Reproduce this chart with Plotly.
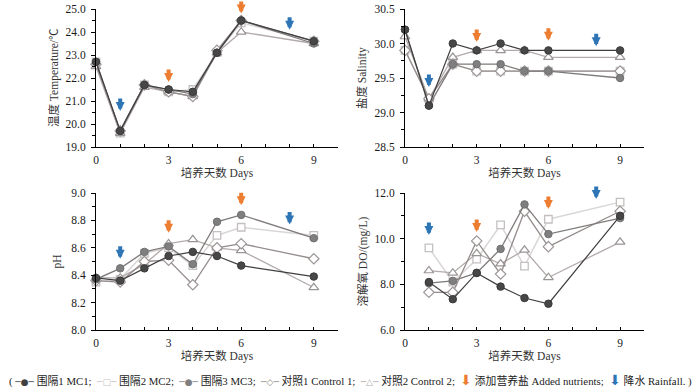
import plotly.graph_objects as go
from plotly.subplots import make_subplots

# ---------------- data ----------------
DAYS = [0, 1, 2, 3, 4, 5, 6, 9]
DO_DAYS = [1, 2, 3, 4, 5, 6, 9]
SERIES = ["围隔1 MC1", "围隔2 MC2", "围隔3 MC3", "对照1 Control 1", "对照2 Control 2"]

TEMP_MC1 = [22.7, 19.7, 21.7, 21.5, 21.4, 23.1, 24.5, 23.6]
TEMP_MC2 = [22.7, 19.6, 21.7, 21.4, 21.5, 23.1, 24.4, 23.6]
TEMP_MC3 = [22.7, 19.7, 21.7, 21.5, 21.3, 23.1, 24.5, 23.5]
TEMP_C1 = [22.6, 19.7, 21.7, 21.4, 21.2, 23.2, 24.5, 23.6]
TEMP_C2 = [22.5, 19.6, 21.6, 21.4, 21.2, 23.1, 24.0, 23.5]

SAL_MC1 = [30.2, 29.1, 30.0, 29.9, 30.0, 29.9, 29.9, 29.9]
SAL_MC2 = [29.9, 29.2, 29.7, 29.6, 29.6, 29.6, 29.6, 29.6]
SAL_MC3 = [30.2, 29.1, 29.7, 29.7, 29.7, 29.6, 29.6, 29.5]
SAL_C1 = [29.9, 29.2, 29.7, 29.6, 29.6, 29.6, 29.6, 29.6]
SAL_C2 = [30.1, 29.2, 29.8, 29.9, 29.9, 29.9, 29.8, 29.8]

PH_MC1 = [8.38, 8.36, 8.45, 8.54, 8.57, 8.54, 8.47, 8.39]
PH_MC2 = [8.35, 8.37, 8.56, 8.60, 8.47, 8.69, 8.75, 8.69]
PH_MC3 = [8.37, 8.45, 8.57, 8.61, 8.48, 8.79, 8.84, 8.67]
PH_C1 = [8.36, 8.35, 8.50, 8.51, 8.33, 8.60, 8.63, 8.52]
PH_C2 = [8.38, 8.38, 8.48, 8.63, 8.66, 8.60, 8.58, 8.31]

DO_MC1 = [8.10, 7.35, 8.50, 7.90, 7.40, 7.15, 11.0]
DO_MC2 = [9.60, 8.10, 9.10, 10.60, 8.80, 10.85, 11.6]
DO_MC3 = [8.05, 8.15, 8.50, 9.55, 11.50, 10.20, 10.9]
DO_C1 = [7.65, 7.65, 9.90, 8.45, 11.20, 9.65, 11.2]
DO_C2 = [8.60, 8.50, 9.35, 8.90, 9.50, 8.30, 9.85]

# event arrows (day, value of arrow tip, kind)
ARROW_DAYS = [1, 3, 6, 8]
ARROW_KIND = ["rain", "nutr", "nutr", "rain"]
TEMP_ARROW_TIPS = [20.57, 21.83, 24.80, 24.10]
SAL_ARROW_TIPS = [29.37, 30.02, 30.04, 29.96]
PH_ARROW_TIPS = [8.52, 8.71, 8.91, 8.77]
DO_ARROW_TIPS = [10.16, 10.29, 11.30, 11.74]

XTICK_VALS = list(range(0, 11))
XTICK_TEXT = ["0", "", "", "3", "", "", "6", "", "", "9", ""]

# ---------------- styles ----------------
FONT = "Liberation Serif, Times New Roman, Noto Sans CJK SC, serif"
STYLES = [
    dict(line=dict(color="#3f3f3f", width=1.2),
         marker=dict(symbol="circle", size=7.5, color="#474747", line=dict(color="#3a3a3a", width=1))),
    dict(line=dict(color="#d9d6d6", width=1.5),
         marker=dict(symbol="square", size=7.5, color="white", line=dict(color="#c4c0c0", width=1.3))),
    dict(line=dict(color="#7f7a7a", width=1.3),
         marker=dict(symbol="circle", size=7.5, color="#7f7f7f", line=dict(color="#707070", width=1))),
    dict(line=dict(color="#948b8b", width=1.3),
         marker=dict(symbol="diamond", size=8, color="white", line=dict(color="#9c9696", width=1.2))),
    dict(line=dict(color="#b3abab", width=1.3),
         marker=dict(symbol="triangle-up", size=8.5, color="white", line=dict(color="#9a9595", width=1.2))),
]
ARROW_COLORS = {"nutr": "#ed7d31", "rain": "#2e75b6"}

fig = make_subplots(rows=2, cols=2)

panels = [
    (1, 1, DAYS, [TEMP_MC1, TEMP_MC2, TEMP_MC3, TEMP_C1, TEMP_C2], TEMP_ARROW_TIPS),
    (1, 2, DAYS, [SAL_MC1, SAL_MC2, SAL_MC3, SAL_C1, SAL_C2], SAL_ARROW_TIPS),
    (2, 1, DAYS, [PH_MC1, PH_MC2, PH_MC3, PH_C1, PH_C2], PH_ARROW_TIPS),
    (2, 2, DO_DAYS, [DO_MC1, DO_MC2, DO_MC3, DO_C1, DO_C2], DO_ARROW_TIPS),
]

order = [1, 4, 3, 2, 0]  # drawing order (bottom -> top)
for r, c, xs, ys_list, tips in panels:
    for i in order:
        fig.add_trace(go.Scatter(x=xs, y=ys_list[i], mode="lines+markers", name=SERIES[i],
                                 line=STYLES[i]["line"], marker=STYLES[i]["marker"],
                                 cliponaxis=False, showlegend=False, hoverinfo="skip"), row=r, col=c)

# axes domains (pixel-derived layout)
W, H = 700, 392
def px_x(a, b):
    return [a / W, b / W]
def px_y(top, bottom):
    return [1 - bottom / H, 1 - top / H]

dom = {
    (1, 1): (px_x(96, 338), px_y(9, 147)),
    (1, 2): (px_x(405, 644), px_y(9, 147)),
    (2, 1): (px_x(96, 338), px_y(193, 330)),
    (2, 2): (px_x(405, 644), px_y(193, 330)),
}
# y title: text, centre x in px
yconf = {
    (1, 1): dict(range=[19, 25], dtick=1, title="温度 Temperature/℃", tx=54),
    (1, 2): dict(range=[28.5, 30.5], dtick=0.5, title="盐度 Salinity", tx=362),
    (2, 1): dict(range=[8.0, 9.0], dtick=0.2, title="pH", tx=57),
    (2, 2): dict(range=[6, 12], dtick=2, title="溶解氧 DO/(mg/L)", tx=362),
}
axis_font = dict(family=FONT, size=11.5, color="#1a1a1a")
title_font = dict(family=FONT, size=11.5, color="#333")
for (r, c), (dx, dy) in dom.items():
    yc = yconf[(r, c)]
    fig.update_xaxes(domain=dx, range=[0, 10], tickvals=XTICK_VALS, ticktext=XTICK_TEXT,
                     ticks="inside", ticklen=3, tickcolor="black", showline=True,
                     linecolor="black", linewidth=1, showgrid=False, zeroline=False,
                     automargin=False, ticklabelstandoff=2,
                     tickfont=axis_font, title=dict(text="培养天数 Days", font=title_font, standoff=4),
                     row=r, col=c)
    fig.update_yaxes(domain=dy, range=yc["range"], dtick=yc["dtick"], tick0=yc["range"][0],
                     tickformat=".1f", ticks="outside", ticklen=4, tickcolor="black",
                     minor=dict(ticks="outside", ticklen=3, tickcolor="black", dtick=yc["dtick"] / 2,
                                tick0=yc["range"][0], showgrid=False),
                     showline=True, linecolor="black", linewidth=1, showgrid=False, zeroline=False,
                     automargin=False, ticklabelstandoff=3, tickfont=axis_font,
                     row=r, col=c)
    fig.add_annotation(x=yc["tx"] / W, y=(dy[0] + dy[1]) / 2, xref="paper", yref="paper",
                       text=yc["title"], textangle=-90, showarrow=False,
                       xanchor="center", yanchor="middle", font=title_font)

# event arrows
axis_names = {(1, 1): ("x", "y"), (1, 2): ("x2", "y2"), (2, 1): ("x3", "y3"), (2, 2): ("x4", "y4")}
for r, c, xs, ys_list, tips in panels:
    xr, yr = axis_names[(r, c)]
    for d, t, k in zip(ARROW_DAYS, tips, ARROW_KIND):
        fig.add_annotation(x=d, y=t, xref=xr, yref=yr, text="", showarrow=True,
                           ax=0, ay=-14, arrowhead=2, arrowsize=0.45, arrowwidth=4,
                           arrowcolor=ARROW_COLORS[k])

# legend line at bottom (text-based)
def sample(color, s, size=9):
    return f"<span style='font-family:DejaVu Sans;font-size:{size}px;color:{color}'>{s}</span>"
legend_text = (
    "( " + sample("#3f3f3f", "─●─") + " 围隔1 MC1;  "
    + sample("#c8c4c4", "─□─") + " 围隔2 MC2;  "
    + sample("#7f7f7f", "─●─") + " 围隔3 MC3;  "
    + sample("#948b8b", "─◇─") + " 对照1 Control 1;  "
    + sample("#b3abab", "─△─") + " 对照2 Control 2;  "
    + sample(ARROW_COLORS["nutr"], "⬇", 14) + " 添加营养盐 Added nutrients;  "
    + sample(ARROW_COLORS["rain"], "⬇", 14) + " 降水 Rainfall. )"
)
fig.add_annotation(x=0.5, y=1 - 380 / H, xref="paper", yref="paper", text=legend_text,
                   showarrow=False, xanchor="center", yanchor="middle",
                   font=dict(family=FONT, size=10.8, color="#222"))

fig.update_layout(width=W, height=H, margin=dict(l=0, r=0, t=0, b=0),
                  paper_bgcolor="white", plot_bgcolor="white", showlegend=False,
                  hovermode=False, font=dict(family=FONT, size=11))

fig.write_html("out.html", config={"displayModeBar": False},
               post_script="document.body.style.margin='0';document.body.style.overflow='hidden';")
